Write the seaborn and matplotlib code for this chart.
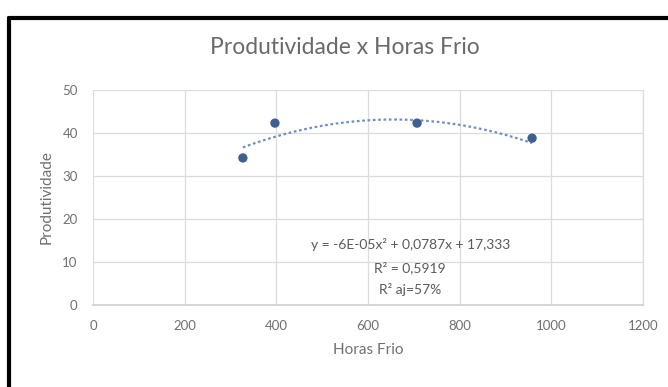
import numpy as np
import pandas as pd
import matplotlib
matplotlib.use("Agg")
import matplotlib.pyplot as plt
import seaborn as sns

# Chill hours vs. productivity observations
horas_frio = [327, 397, 707, 958]
produtividade = [34.2, 42.3, 42.3, 38.8]

# Second-order polynomial trend (coefficients as reported on the chart)
coef_a, coef_b, coef_c = -6e-05, 0.0787, 17.333
r2_text = "R² = 0,5919"
r2aj_text = "R² aj=57%"
eq_text = "y = -6E-05x² + 0,0787x + 17,333"

x_ticks = [0, 200, 400, 600, 800, 1000, 1200]
y_ticks = [0, 10, 20, 30, 40, 50]

sns.set_theme(style="white")
plt.rcParams["font.family"] = ["Lato", "DejaVu Sans"]

fig = plt.figure(figsize=(6.68, 3.87), dpi=100)
ax = fig.add_axes([93 / 668, 1 - 305 / 387, 550 / 668, 215 / 387])

df = pd.DataFrame({"Horas Frio": horas_frio, "Produtividade": produtividade})

xs = np.linspace(min(horas_frio), max(horas_frio), 200)
trend = pd.DataFrame({"x": xs, "y": coef_a * xs**2 + coef_b * xs + coef_c})
sns.lineplot(data=trend, x="x", y="y", ax=ax, color="#6f8fc4",
             linestyle=(0, (1.2, 1.2)), linewidth=1.6, zorder=2)
sns.scatterplot(data=df, x="Horas Frio", y="Produtividade", ax=ax,
                color="#3f5f91", s=45, edgecolor="none", zorder=3)

ax.set_xlim(0, 1200)
ax.set_ylim(0, 50)
ax.set_xticks(x_ticks)
ax.set_yticks(y_ticks)
ax.grid(True, color="#dcdcdc", linewidth=0.9)
ax.set_axisbelow(True)
for side in ("top", "left"):
    ax.spines[side].set_visible(False)
ax.spines["bottom"].set_color("#d0d0d0")
ax.spines["right"].set_color("#dcdcdc")
ax.spines["right"].set_linewidth(0.9)
ax.tick_params(axis="both", length=0, labelsize=9.5, labelcolor="#707070")
ax.tick_params(axis="x", pad=11)
ax.tick_params(axis="y", pad=11)

ax.set_xlabel("Horas Frio", fontsize=11, color="#707070", labelpad=8)
ax.set_ylabel("Produtividade", fontsize=11, color="#707070", labelpad=6)

fig.text(345 / 668, 1 - 47 / 387, "Produtividade x Horas Frio",
         ha="center", va="center", fontsize=16.5, color="#6a6a6a")

# Trend equation and fit statistics, stacked and centred at x = 692
for text, yval in [(eq_text, 14.0), (r2_text, 8.6), (r2aj_text, 3.5)]:
    ax.text(692, yval, text, ha="center", va="center",
            fontsize=10, color="#5a5a5a")

# Frame of the embedded chart (top and left edges)
fig.add_artist(plt.Line2D([9 / 668, 1], [1 - 18 / 387, 1 - 18 / 387],
                          transform=fig.transFigure, color="black", linewidth=3))
fig.add_artist(plt.Line2D([9 / 668, 9 / 668], [0, 1 - 18 / 387],
                          transform=fig.transFigure, color="black", linewidth=3))

fig.savefig("out.png", dpi=100)
